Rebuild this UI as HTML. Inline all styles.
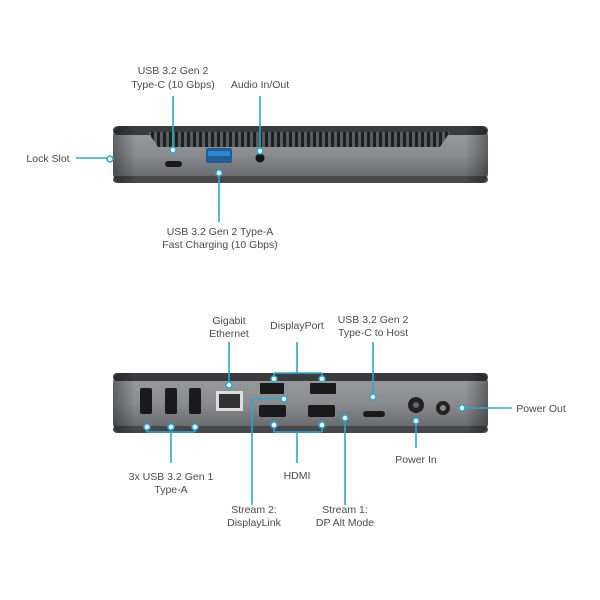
<!DOCTYPE html>
<html><head><meta charset="utf-8"><style>
html,body{margin:0;padding:0;background:#fff;}
svg{display:block}
text{font-family:"Liberation Sans",sans-serif;font-size:10.5px;fill:#4a4a4a;text-anchor:middle}
</style></head><body>
<svg width="600" height="600" viewBox="0 0 600 600">
<defs>
<linearGradient id="face" x1="0" y1="0" x2="0" y2="1">
<stop offset="0" stop-color="#9a9ca0"/><stop offset="0.5" stop-color="#8a8c90"/><stop offset="1" stop-color="#606266"/>
</linearGradient>
<linearGradient id="side" x1="0" y1="0" x2="1" y2="0">
<stop offset="0" stop-color="#000" stop-opacity="0.35"/><stop offset="0.06" stop-color="#000" stop-opacity="0"/>
<stop offset="0.94" stop-color="#000" stop-opacity="0"/><stop offset="1" stop-color="#000" stop-opacity="0.35"/>
</linearGradient>
<pattern id="grill" width="6" height="20" patternUnits="userSpaceOnUse">
<rect width="6" height="20" fill="#5a5c60"/><rect x="1" width="3" height="20" fill="#1e1f21"/>
</pattern>
</defs>
<!-- top device -->
<rect x="113" y="126" width="375" height="57" rx="10" fill="url(#face)"/>
<rect x="113" y="126" width="375" height="9" rx="5" fill="#3a3b3e"/>
<path d="M148 132 H450 L440 147 H158 Z" fill="url(#grill)"/>
<rect x="113" y="176" width="375" height="7" rx="4" fill="#45474a"/>
<rect x="113" y="126" width="375" height="57" rx="10" fill="url(#side)"/>
<rect x="165" y="161" width="17" height="6" rx="3" fill="#1a1a1a"/>
<rect x="206" y="148" width="26" height="15" rx="2" fill="#1f5f9a"/>
<rect x="208" y="151" width="22" height="5" fill="#2e86d0"/>
<circle cx="260" cy="158" r="4.5" fill="#151515"/>
<g stroke="#2ca8cc" stroke-width="1.6" fill="none">
<line x1="173" y1="96" x2="173" y2="147"/><circle cx="173" cy="150" r="3" fill="#fff"/>
<line x1="260" y1="96" x2="260" y2="148"/><circle cx="260" cy="151" r="3" fill="#fff"/>
<line x1="76" y1="158" x2="107" y2="158"/><circle cx="110" cy="159" r="3" fill="#fff"/>
<line x1="219" y1="176" x2="219" y2="222"/><circle cx="219" cy="173" r="3" fill="#fff"/>
</g>
<text x="173" y="74">USB 3.2 Gen 2</text>
<text x="173" y="88">Type-C (10 Gbps)</text>
<text x="260" y="88">Audio In/Out</text>
<text x="48" y="162">Lock Slot</text>
<text x="220" y="235">USB 3.2 Gen 2 Type-A</text>
<text x="220" y="248">Fast Charging (10 Gbps)</text>
<!-- bottom device -->
<rect x="113" y="373" width="375" height="60" rx="10" fill="url(#face)"/>
<rect x="113" y="373" width="375" height="8" rx="4" fill="#3a3b3e"/>
<rect x="113" y="426" width="375" height="7" rx="4" fill="#45474a"/>
<rect x="113" y="373" width="375" height="60" rx="10" fill="url(#side)"/>
<g fill="#1a1a1a">
<rect x="140" y="388" width="12" height="26" rx="2"/>
<rect x="165" y="388" width="12" height="26" rx="2"/>
<rect x="189" y="388" width="12" height="26" rx="2"/>
<rect x="216" y="391" width="27" height="20" fill="#ddd"/>
<rect x="219" y="394" width="21" height="14" fill="#333"/>
<rect x="260" y="383" width="24" height="11" rx="1"/>
<rect x="310" y="383" width="26" height="11" rx="1"/>
<rect x="259" y="405" width="27" height="12" rx="2"/>
<rect x="308" y="405" width="27" height="12" rx="2"/>
<rect x="363" y="411" width="22" height="6" rx="3"/>
</g>
<circle cx="416" cy="405" r="8" fill="#222"/><circle cx="416" cy="405" r="3" fill="#666"/>
<circle cx="443" cy="408" r="7" fill="#222"/><circle cx="443" cy="408" r="3" fill="#888"/>
<g stroke="#2ca8cc" stroke-width="1.6" fill="none">
<line x1="147" y1="432" x2="195" y2="432"/><line x1="171" y1="432" x2="171" y2="463"/>
<line x1="147" y1="429" x2="147" y2="432"/><line x1="195" y1="429" x2="195" y2="432"/>
<circle cx="147" cy="427" r="3" fill="#fff"/><circle cx="171" cy="427" r="3" fill="#fff"/><circle cx="195" cy="427" r="3" fill="#fff"/>
<line x1="229" y1="342" x2="229" y2="382"/><circle cx="229" cy="385" r="3" fill="#fff"/>
<line x1="297" y1="342" x2="297" y2="373"/><line x1="274" y1="373" x2="322" y2="373"/>
<line x1="274" y1="373" x2="274" y2="377"/><line x1="322" y1="373" x2="322" y2="377"/>
<circle cx="274" cy="379" r="3" fill="#fff"/><circle cx="322" cy="379" r="3" fill="#fff"/>
<line x1="373" y1="342" x2="373" y2="394"/><circle cx="373" cy="397" r="3" fill="#fff"/>
<line x1="465" y1="408" x2="512" y2="408"/><circle cx="462" cy="408" r="3" fill="#fff"/>
<polyline points="281,399 252,399 252,505"/><circle cx="284" cy="399" r="3" fill="#fff"/>
<line x1="274" y1="432" x2="322" y2="432"/><line x1="297" y1="432" x2="297" y2="463"/>
<line x1="274" y1="428" x2="274" y2="432"/><line x1="322" y1="428" x2="322" y2="432"/>
<circle cx="274" cy="425" r="3" fill="#fff"/><circle cx="322" cy="425" r="3" fill="#fff"/>
<line x1="345" y1="421" x2="345" y2="505"/><circle cx="345" cy="418" r="3" fill="#fff"/>
<line x1="416" y1="424" x2="416" y2="448"/><circle cx="416" cy="421" r="3" fill="#fff"/>
</g>
<text x="229" y="324">Gigabit</text><text x="229" y="337">Ethernet</text>
<text x="297" y="329">DisplayPort</text>
<text x="373" y="323">USB 3.2 Gen 2</text><text x="373" y="336">Type-C to Host</text>
<text x="541" y="412">Power Out</text>
<text x="171" y="480">3x USB 3.2 Gen 1</text><text x="171" y="493">Type-A</text>
<text x="297" y="479">HDMI</text>
<text x="416" y="463">Power In</text>
<text x="254" y="513">Stream 2:</text><text x="254" y="526">DisplayLink</text>
<text x="345" y="513">Stream 1:</text><text x="345" y="526">DP Alt Mode</text>
</svg>
</body></html>
